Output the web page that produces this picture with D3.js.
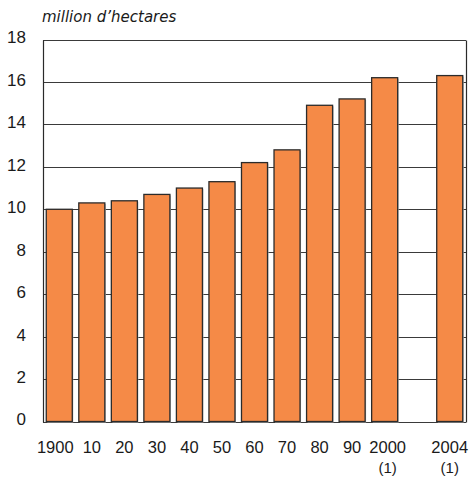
<!DOCTYPE html>
<html>
<head>
<meta charset="utf-8">
<script src="https://cdn.jsdelivr.net/npm/d3@7"></script>
<style>
  html, body { margin: 0; padding: 0; background: #fff; }
  svg text { font-family: "Liberation Sans", Arial, sans-serif; fill: #1a1a1a; }
</style>
</head>
<body>
<svg id="chart" width="471" height="477"></svg>
<script>
// Slots along the x axis; the empty slot leaves a gap before 2004
const slots = ["1900", "10", "20", "30", "40", "50", "60", "70", "80", "90", "2000", "gap", "2004"];
const categories = ["1900", "10", "20", "30", "40", "50", "60", "70", "80", "90", "2000", "2004"];
const values = [10.0, 10.3, 10.4, 10.7, 11.0, 11.3, 12.2, 12.8, 14.9, 15.2, 16.2, 16.3];
const footnotes = ["", "", "", "", "", "", "", "", "", "", "(1)", "(1)"];
const yTicks = [0, 2, 4, 6, 8, 10, 12, 14, 16, 18];
const unitLabel = "million d\u2019hectares";

const data = categories.map((c, i) => ({ cat: c, value: values[i], note: footnotes[i] }));

const svg = d3.select("#chart");
const margin = { left: 43, right: 5, top: 39.5, bottom: 55.5 };
const W = 471, H = 477;

const x = d3.scaleBand()
  .domain(slots)
  .range([margin.left, W - margin.right])
  .paddingInner(0.2)
  .paddingOuter(0.1);

const y = d3.scaleLinear()
  .domain([0, 18])
  .range([H - margin.bottom, margin.top]);

// Horizontal gridlines
svg.append("g")
  .selectAll("line")
  .data(yTicks)
  .join("line")
  .attr("x1", margin.left)
  .attr("x2", W - margin.right)
  .attr("y1", d => Math.round(y(d)) + 0.5)
  .attr("y2", d => Math.round(y(d)) + 0.5)
  .attr("stroke", "#3a3a3a")
  .attr("stroke-width", 1.2);

// Frame: left and right edges
[margin.left, W - margin.right].forEach(px => {
  svg.append("line")
    .attr("x1", px + 0.5).attr("x2", px + 0.5)
    .attr("y1", Math.round(y(18)) + 0.5).attr("y2", Math.round(y(0)) + 0.5)
    .attr("stroke", "#2a2a2a")
    .attr("stroke-width", 1.2);
});

// Soft shadow under each bar
svg.append("g")
  .selectAll("rect")
  .data(data)
  .join("rect")
  .attr("x", d => x(d.cat) + 1)
  .attr("y", d => y(d.value) + 1)
  .attr("width", x.bandwidth())
  .attr("height", d => y(0) - y(d.value))
  .attr("fill", "#bdbdbd");

// Bars
svg.append("g")
  .selectAll("rect")
  .data(data)
  .join("rect")
  .attr("x", d => x(d.cat))
  .attr("y", d => y(d.value))
  .attr("width", x.bandwidth())
  .attr("height", d => y(0) - y(d.value))
  .attr("fill", "#f58a47")
  .attr("stroke", "#2b2b2b")
  .attr("stroke-width", 1.3);

// Y axis labels
const yAxis = d3.axisLeft(y).tickValues(yTicks).tickSize(0).tickPadding(17);
const gy = svg.append("g")
  .attr("transform", `translate(${margin.left},0)`)
  .call(yAxis);
gy.select(".domain").remove();
gy.selectAll("text")
  .style("font-family", "\"Liberation Sans\", Arial, sans-serif")
  .attr("font-size", 17)
  .attr("dy", "0.2em")
  .attr("fill", "#1a1a1a");

// X axis labels
const xAxis = d3.axisBottom(x)
  .tickValues(categories)
  .tickSize(0)
  .tickPadding(20);
const gx = svg.append("g")
  .attr("transform", `translate(0,${y(0)})`)
  .call(xAxis);
gx.select(".domain").remove();
gx.selectAll("text")
  .style("font-family", "\"Liberation Sans\", Arial, sans-serif")
  .attr("font-size", 16.5)
  .attr("fill", "#1a1a1a")
  .attr("dx", d => d === "1900" ? -4 : d === "2000" ? 3 : 0);

// Footnote markers under the last two years
svg.append("g")
  .selectAll("text")
  .data(data.filter(d => d.note))
  .join("text")
  .attr("x", d => x(d.cat) + x.bandwidth() / 2 + (d.cat === "2000" ? 3 : 0))
  .attr("y", 473)
  .attr("text-anchor", "middle")
  .attr("font-size", 15)
  .text(d => d.note);

// Unit label
svg.append("text")
  .attr("x", 42)
  .attr("y", 22)
  .style("font-family", "\"DejaVu Sans\", sans-serif")
  .attr("font-size", 15)
  .attr("font-style", "italic")
  .text(unitLabel);
</script>
</body>
</html>
